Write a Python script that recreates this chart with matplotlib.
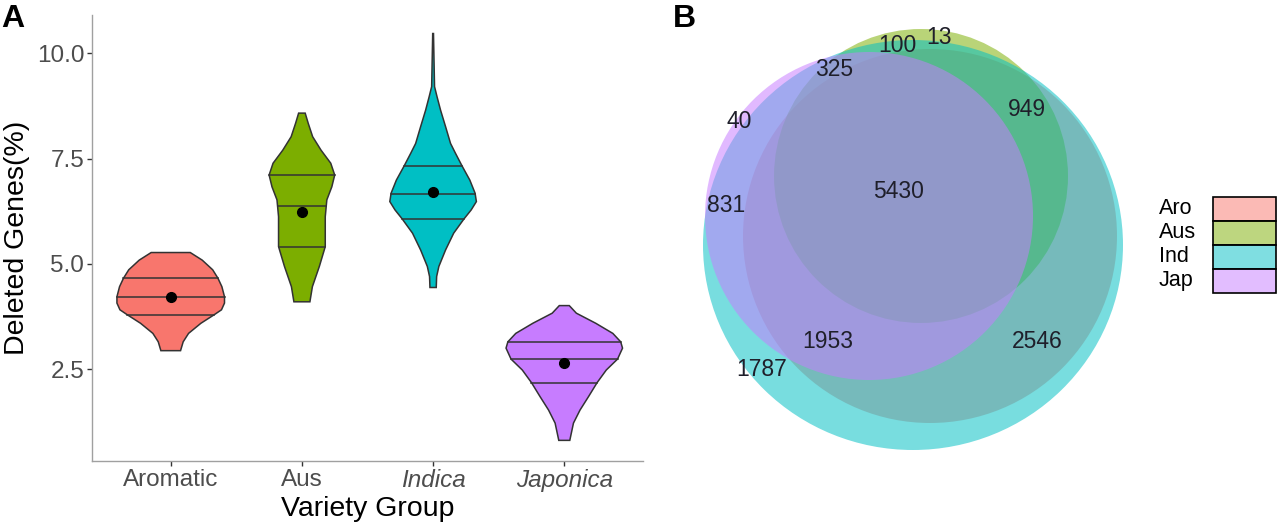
import numpy as np
import matplotlib.pyplot as plt
from matplotlib.patches import Ellipse, Rectangle, Polygon

plt.rcParams['font.family'] = ['Liberation Sans', 'DejaVu Sans']

# ---- panel A data: violin outlines (value, half width)
groups = ['Aromatic', 'Aus', 'Indica', 'Japonica']
group_colors = ['#F8766D', '#7CAE00', '#00BFC4', '#C77CFF']

aro_y = [2.94, 3.15, 3.35, 3.59, 3.79, 3.91, 4.07, 4.22, 4.46, 4.66, 4.86, 5.09, 5.27]
aro_w = [0.075, 0.095, 0.136, 0.23, 0.33, 0.387, 0.41, 0.41, 0.39, 0.36, 0.32, 0.24, 0.149]
aus_y = [4.10, 4.46, 4.94, 5.41, 5.73, 6.12, 6.52, 6.83, 7.11, 7.39, 7.70, 8.02, 8.34, 8.58]
aus_w = [0.061, 0.08, 0.133, 0.178, 0.178, 0.178, 0.19, 0.228, 0.25, 0.22, 0.146, 0.082, 0.048, 0.025]
ind_y = [4.44, 4.70, 4.94, 5.33, 5.73, 6.07, 6.28, 6.48, 6.68, 6.99, 7.33, 7.63, 7.86, 8.26, 8.65,
         8.97, 9.21, 10.47]
ind_w = [0.024, 0.027, 0.044, 0.095, 0.157, 0.236, 0.29, 0.33, 0.32, 0.28, 0.22, 0.17, 0.133, 0.095,
         0.057, 0.03, 0.011, 0.003]
jap_y = [0.81, 1.22, 1.53, 1.85, 2.18, 2.48, 2.74, 3.00, 3.15, 3.35, 3.59, 3.83, 4.01]
jap_w = [0.042, 0.07, 0.12, 0.185, 0.25, 0.32, 0.406, 0.444, 0.43, 0.37, 0.24, 0.092, 0.038]

quartiles = [[3.79, 4.21, 4.66],
             [5.41, 6.38, 7.11],
             [6.07, 6.65, 7.33],
             [2.18, 2.74, 3.15]]
means = [4.22, 6.23, 6.70, 2.64]

# ---- panel B data
sets = ['Aro', 'Aus', 'Ind', 'Jap']
set_colors = ['#F8766D', '#7CAE00', '#00BFC4', '#C77CFF']
region_counts = [13, 100, 325, 40, 831, 949, 5430, 1953, 2546, 1787]

# layout of the euler diagram (pixel space of the panel)
ellipses = {'Aro': (930, 236, 374, 374),
            'Aus': (921, 176, 294, 294),
            'Ind': (913, 245, 420, 410),
            'Jap': (869, 216, 328, 328)}
label_xy = [(939, 37), (897, 46), (834, 69), (739, 122), (726, 205),
            (1027, 110), (899, 191), (828, 341), (1037, 341), (762, 370)]

W, H = 1280, 526
fig = plt.figure(figsize=(W / 100, H / 100), dpi=100)

# ================= panel A =================
ax = fig.add_axes([92 / W, (H - 461) / H, (643 - 92) / W, (461 - 15) / H])
profiles = [(aro_y, aro_w), (aus_y, aus_w), (ind_y, ind_w), (jap_y, jap_w)]
for i, (ys, ws) in enumerate(profiles):
    pos = i + 1
    ys = np.array(ys)
    ws = np.array(ws)
    xs = np.concatenate([pos - ws, (pos + ws)[::-1]])
    yy = np.concatenate([ys, ys[::-1]])
    ax.add_patch(Polygon(np.column_stack([xs, yy]), closed=True,
                         facecolor=group_colors[i], edgecolor='#333333', lw=1.1, zorder=2))
    for q in quartiles[i]:
        hw = np.interp(q, ys, ws)
        ax.plot([pos - hw, pos + hw], [q, q], color='#333333', lw=1.1, zorder=3)
    ax.plot(pos, means[i], 'o', color='black', ms=7, zorder=4)

ax.set_xlim(0.4, 4.6)
ax.set_ylim(0.32, 10.91)
ax.set_xticks([1, 2, 3, 4])
ax.set_xticklabels(groups)
for lab in ax.get_xticklabels()[2:]:
    lab.set_style('italic')
ax.set_yticks([2.5, 5.0, 7.5, 10.0])
ax.set_yticklabels(['2.5', '5.0', '7.5', '10.0'])
for s in ['top', 'right']:
    ax.spines[s].set_visible(False)
for s in ['left', 'bottom']:
    ax.spines[s].set_color('#A0A0A0')
    ax.spines[s].set_linewidth(1.0)
ax.tick_params(axis='both', length=3.5, width=1.0, color='#333333',
               labelcolor='#4D4D4D', labelsize=17.5, pad=2)
ax.set_xlabel('Variety Group', fontsize=20.5, color='black', labelpad=3)
ax.set_ylabel('Deleted Genes(%)', fontsize=20.5, color='black')
ax.yaxis.set_label_coords(-0.112, 0.5)

fig.text(1 / W, 1 - 4 / H, 'A', fontsize=23, fontweight='bold', va='top', ha='left')
fig.text(673 / W, 1 - 4 / H, 'B', fontsize=23, fontweight='bold', va='top', ha='left')

# ================= panel B =================
bx = fig.add_axes([660 / W, 0, (W - 660) / W, 1])
bx.set_xlim(660, W)
bx.set_ylim(H, 0)
bx.axis('off')

for name, col in zip(sets, set_colors):
    cx, cy, w, h = ellipses[name]
    bx.add_patch(Ellipse((cx, cy), w, h, facecolor=col, edgecolor='none', alpha=0.53))

for cnt, (lx, ly) in zip(region_counts, label_xy):
    bx.text(lx, ly, str(cnt), fontsize=16.5, color='#1f1f2a', ha='center', va='center')

# legend drawn as boxes with labels on the left
box_top = 197
row_h = 23.9
for k, (name, col) in enumerate(zip(sets, set_colors)):
    y0 = box_top + k * row_h
    bx.add_patch(Rectangle((1213, y0), 63, row_h, facecolor=col, alpha=0.5, edgecolor='none'))
    bx.add_patch(Rectangle((1213, y0), 63, row_h, facecolor='none', edgecolor='black', lw=1.2))
    bx.text(1159, y0 + row_h / 2, name, fontsize=15.5, color='black', ha='left', va='center')

fig.savefig('out.png', dpi=100)
